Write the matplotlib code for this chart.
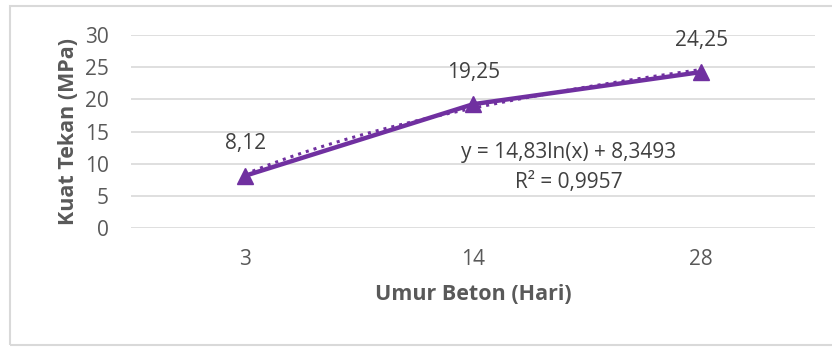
import numpy as np
import matplotlib.pyplot as plt
from matplotlib.patches import Rectangle

umur = ["3", "14", "28"]
kuat_tekan = [8.12, 19.25, 24.25]
label_nilai = ["8,12", "19,25", "24,25"]
persamaan = "y = 14,83ln(x) + 8,3493"
r_kuadrat = "R² = 0,9957"

ungu = "#7030A0"
abu = "#595959"
plt.rcParams['font.family'] = ['Open Sans', 'DejaVu Sans']

fig = plt.figure(figsize=(8.32, 3.47), dpi=100)
ax = fig.add_axes([0.1575, 0.343, 0.8225, 0.556])

x = np.arange(len(umur))
# trendline logaritmik (x = 1, 2, 3 seperti di Excel)
a, b = np.polyfit(np.log(x + 1), kuat_tekan, 1)
xt = np.linspace(0, len(umur) - 1, 100)
ax.plot(xt, a * np.log(xt + 1) + b, color=ungu, linestyle=":", linewidth=2.2, zorder=2)

ax.plot(x, kuat_tekan, color=ungu, linewidth=3.2, marker="^", markersize=11, zorder=3)

for i in range(len(umur)):
    ax.annotate(label_nilai[i], (x[i], kuat_tekan[i]), xytext=(0, 23), textcoords="offset points",
                ha="center", va="center", fontsize=15, color="#404040")

ax.text(1.42, 11.7, persamaan, ha="center", va="center", fontsize=15, color="#404040")
ax.text(1.42, 7.0, r_kuadrat, ha="center", va="center", fontsize=15, color="#404040")

ax.set_xlim(-0.5, len(umur) - 0.5)
ax.set_ylim(0, 30)
ax.set_yticks(range(0, 31, 5))
ax.set_xticks(x)
ax.set_xticklabels(umur)
ax.tick_params(length=0, labelsize=15, colors=abu)
ax.tick_params(axis="y", pad=16)
ax.tick_params(axis="x", pad=15)
ax.grid(axis="y", color="#D9D9D9", linewidth=1.2)
ax.set_axisbelow(True)
for s in ax.spines.values():
    s.set_visible(False)

ax.set_ylabel("Kuat Tekan (MPa)", fontsize=15.5, fontweight="bold", color=abu, labelpad=4)
ax.set_xlabel("Umur Beton (Hari)", fontsize=15.5, fontweight="bold", color=abu, labelpad=10)

fig.patches.append(Rectangle((10 / 832, 2 / 347), 1.0, 339 / 347, transform=fig.transFigure,
                             fill=False, edgecolor="#D9D9D9", linewidth=1.5))

plt.savefig("out.png", dpi=100)
